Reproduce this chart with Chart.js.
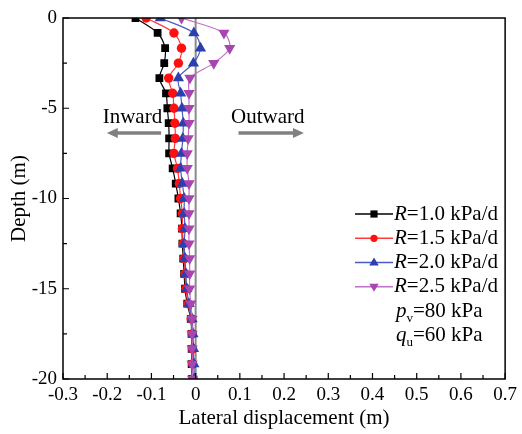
<!DOCTYPE html>
<html>
<head>
<meta charset="utf-8">
<script src="https://cdn.jsdelivr.net/npm/chart.js@4/dist/chart.umd.min.js"></script>
<style>
  html, body { margin: 0; padding: 0; background: #fff; }
  #wrap { width: 522px; height: 434px; }
</style>
</head>
<body>
<div id="wrap"><canvas id="chart" width="522" height="434"></canvas></div>
<script>
// depths (m), one reading every 0.83 m
const depths = [0, -0.83, -1.67, -2.5, -3.33, -4.17, -5, -5.83, -6.67, -7.5, -8.33, -9.17, -10,
  -10.83, -11.67, -12.5, -13.33, -14.17, -15, -15.83, -16.67, -17.5, -18.33, -19.17, -20];

// lateral displacement (m) for each loading rate
const dispR10 = [-0.136, -0.086, -0.069, -0.071, -0.082, -0.067, -0.064, -0.061, -0.060, -0.060, -0.052, -0.045, -0.039,
  -0.034, -0.031, -0.030, -0.028, -0.026, -0.024, -0.019, -0.011, -0.009, -0.009, -0.009, -0.008];
const dispR15 = [-0.112, -0.049, -0.032, -0.039, -0.061, -0.052, -0.049, -0.047, -0.046, -0.049, -0.041, -0.037, -0.034,
  -0.030, -0.030, -0.028, -0.026, -0.024, -0.022, -0.017, -0.010, -0.008, -0.007, -0.007, -0.006];
const dispR20 = [-0.080, -0.004, 0.011, -0.005, -0.039, -0.034, -0.031, -0.028, -0.029, -0.032, -0.034, -0.030, -0.026,
  -0.026, -0.024, -0.026, -0.024, -0.022, -0.020, -0.015, -0.008, -0.006, -0.005, -0.004, -0.003];
const dispR25 = [-0.032, 0.064, 0.077, 0.041, -0.013, -0.015, -0.015, -0.015, -0.017, -0.019, -0.019, -0.015, -0.015,
  -0.015, -0.015, -0.015, -0.0135, -0.0135, -0.0135, -0.011, -0.008, -0.008, -0.008, -0.008, -0.007];

const seriesNames = ['1.0', '1.5', '2.0', '2.5'];
const xTicks = [-0.3, -0.2, -0.1, 0, 0.1, 0.2, 0.3, 0.4, 0.5, 0.6, 0.7];
const yTicks = [0, -5, -10, -15, -20];

const FONT = "'Liberation Serif', 'Times New Roman', serif";

const styles = [
  { line: '#000000', fill: '#000000', point: 'rect', rot: 0, r: 5.5, lr: 3.6 },
  { line: '#ff3b3b', fill: '#ff1010', point: 'circle', rot: 0, r: 4.7, lr: 3.6 },
  { line: '#4a5cc0', fill: '#2b3fae', point: 'triangle', rot: 0, r: 6.5, lr: 5 },
  { line: '#c070c8', fill: '#a845b0', point: 'triangle', rot: 180, r: 6.5, lr: 5 }
];

const allDisp = [dispR10, dispR15, dispR20, dispR25];

const datasets = allDisp.map((arr, i) => ({
  label: 'R=' + seriesNames[i] + ' kPa/d',
  data: arr.map((v, j) => ({ x: v, y: depths[j] })),
  showLine: true,
  borderColor: styles[i].line,
  borderWidth: 1.2,
  backgroundColor: styles[i].fill,
  pointBackgroundColor: styles[i].fill,
  pointBorderColor: styles[i].fill,
  pointBorderWidth: 0,
  pointStyle: styles[i].point,
  rotation: styles[i].rot,
  pointRadius: styles[i].r,
  tension: 0.3,
  order: 4 - i
}));

function drawMarker(ctx, s, x, y) {
  ctx.fillStyle = s.fill;
  ctx.beginPath();
  const r = s.lr;
  if (s.point === 'rect') {
    ctx.rect(x - r, y - r, r * 2, r * 2);
  } else if (s.point === 'circle') {
    ctx.arc(x, y, r, 0, Math.PI * 2);
  } else {
    const d = s.rot ? -1 : 1;
    ctx.moveTo(x, y - d * r);
    ctx.lineTo(x - r * 0.95, y + d * r * 0.6);
    ctx.lineTo(x + r * 0.95, y + d * r * 0.6);
    ctx.closePath();
  }
  ctx.fill();
}

const extras = {
  id: 'extras',
  beforeDatasetsDraw(chart) {
    const { ctx, chartArea: a, scales } = chart;
    const x0 = scales.x.getPixelForValue(0);
    ctx.save();
    ctx.strokeStyle = '#8a8a8a';
    ctx.lineWidth = 2;
    ctx.beginPath();
    ctx.moveTo(x0, a.top);
    ctx.lineTo(x0, a.bottom);
    ctx.stroke();

    // Inward / Outward labels and arrows
    const xs = scales.x, ys = scales.y;
    ctx.fillStyle = '#000';
    ctx.font = '21px ' + FONT;
    ctx.textAlign = 'center';
    ctx.textBaseline = 'middle';
    ctx.fillText('Inward', xs.getPixelForValue(-0.143), ys.getPixelForValue(-5.5));
    ctx.fillText('Outward', xs.getPixelForValue(0.163), ys.getPixelForValue(-5.5));

    function arrow(fromX, toX, yv) {
      const x1 = xs.getPixelForValue(fromX), x2 = xs.getPixelForValue(toX), y = ys.getPixelForValue(yv);
      const dir = x2 > x1 ? 1 : -1;
      ctx.strokeStyle = '#808080';
      ctx.fillStyle = '#808080';
      ctx.lineWidth = 3.5;
      ctx.beginPath();
      ctx.moveTo(x1, y);
      ctx.lineTo(x2 - dir * 8, y);
      ctx.stroke();
      ctx.beginPath();
      ctx.moveTo(x2, y);
      ctx.lineTo(x2 - dir * 11, y - 5);
      ctx.lineTo(x2 - dir * 11, y + 5);
      ctx.closePath();
      ctx.fill();
    }
    arrow(-0.078, -0.201, -6.37);
    arrow(0.097, 0.245, -6.37);
    ctx.restore();
  },
  afterDraw(chart) {
    const { ctx, chartArea: a, scales } = chart;
    ctx.save();
    // frame
    ctx.strokeStyle = '#000';
    ctx.lineWidth = 1.5;
    ctx.strokeRect(a.left, a.top, a.right - a.left, a.bottom - a.top);

    // inward ticks, major and minor
    ctx.lineWidth = 1.2;
    ctx.beginPath();
    for (let i = 0; i < xTicks.length; i++) {
      const px = scales.x.getPixelForValue(xTicks[i]);
      ctx.moveTo(px, a.bottom);
      ctx.lineTo(px, a.bottom - 6);
      if (i < xTicks.length - 1) {
        const pm = scales.x.getPixelForValue((xTicks[i] + xTicks[i + 1]) / 2);
        ctx.moveTo(pm, a.bottom);
        ctx.lineTo(pm, a.bottom - 4);
      }
    }
    for (let i = 0; i < yTicks.length; i++) {
      const py = scales.y.getPixelForValue(yTicks[i]);
      ctx.moveTo(a.left, py);
      ctx.lineTo(a.left + 6, py);
      if (i < yTicks.length - 1) {
        const pm = scales.y.getPixelForValue((yTicks[i] + yTicks[i + 1]) / 2);
        ctx.moveTo(a.left, pm);
        ctx.lineTo(a.left + 4, pm);
      }
    }
    ctx.stroke();

    // legend
    const lx1 = 355, lx2 = 393, tx = 394;
    const rowY = [214, 238.3, 262.5, 286.8];
    ctx.textBaseline = 'middle';
    ctx.textAlign = 'left';
    styles.forEach((s, i) => {
      const y = rowY[i];
      ctx.strokeStyle = s.line;
      ctx.lineWidth = 1.5;
      ctx.beginPath();
      ctx.moveTo(lx1, y);
      ctx.lineTo(lx2, y);
      ctx.stroke();
      drawMarker(ctx, s, (lx1 + lx2) / 2, y);
      ctx.fillStyle = '#000';
      ctx.font = 'italic 21px ' + FONT;
      ctx.fillText('R', tx, y);
      const w = ctx.measureText('R').width;
      ctx.font = '21px ' + FONT;
      ctx.fillText('=' + seriesNames[i] + ' kPa/d', tx + w, y);
    });
    function subLabel(main, sub, rest, y) {
      ctx.fillStyle = '#000';
      ctx.font = 'italic 21px ' + FONT;
      ctx.fillText(main, tx + 2, y);
      const w = ctx.measureText(main).width;
      ctx.font = '13px ' + FONT;
      ctx.fillText(sub, tx + 2 + w, y + 8);
      const w2 = ctx.measureText(sub).width;
      ctx.font = '21px ' + FONT;
      ctx.fillText(rest, tx + 2 + w + w2, y);
    }
    subLabel('p', 'v', '=80 kPa', 311);
    subLabel('q', 'u', '=60 kPa', 335);
    ctx.restore();
  }
};

const tickFmt = v => (Math.abs(v) < 1e-9 ? '0' : (Math.round(v * 10) / 10).toString());

new Chart(document.getElementById('chart').getContext('2d'), {
  type: 'scatter',
  data: { datasets: datasets },
  options: {
    responsive: false,
    animation: false,
    layout: { padding: { top: 18, right: 13, left: 0, bottom: 0 } },
    plugins: { legend: { display: false }, tooltip: { enabled: false } },
    scales: {
      x: {
        type: 'linear',
        min: -0.3,
        max: 0.7,
        afterBuildTicks: s => { s.ticks = xTicks.map(v => ({ value: v })); },
        afterFit: s => { s.height = 55; },
        grid: { display: false, drawTicks: false },
        border: { display: false },
        ticks: { color: '#000', font: { family: FONT, size: 19 }, padding: 5, callback: tickFmt, maxRotation: 0, autoSkip: false },
        title: { display: true, text: 'Lateral displacement (m)', color: '#000', font: { family: FONT, size: 21 }, padding: { top: 0, bottom: 3 } }
      },
      y: {
        type: 'linear',
        min: -20,
        max: 0,
        afterBuildTicks: s => { s.ticks = yTicks.map(v => ({ value: v })); },
        afterFit: s => { s.width = 63; },
        grid: { display: false, drawTicks: false },
        border: { display: false },
        ticks: { color: '#000', font: { family: FONT, size: 19 }, padding: 6, callback: tickFmt },
        title: { display: true, text: 'Depth (m)', color: '#000', font: { family: FONT, size: 21 }, padding: { top: 7, bottom: 0 } }
      }
    }
  },
  plugins: [extras]
});
</script>
</body>
</html>
